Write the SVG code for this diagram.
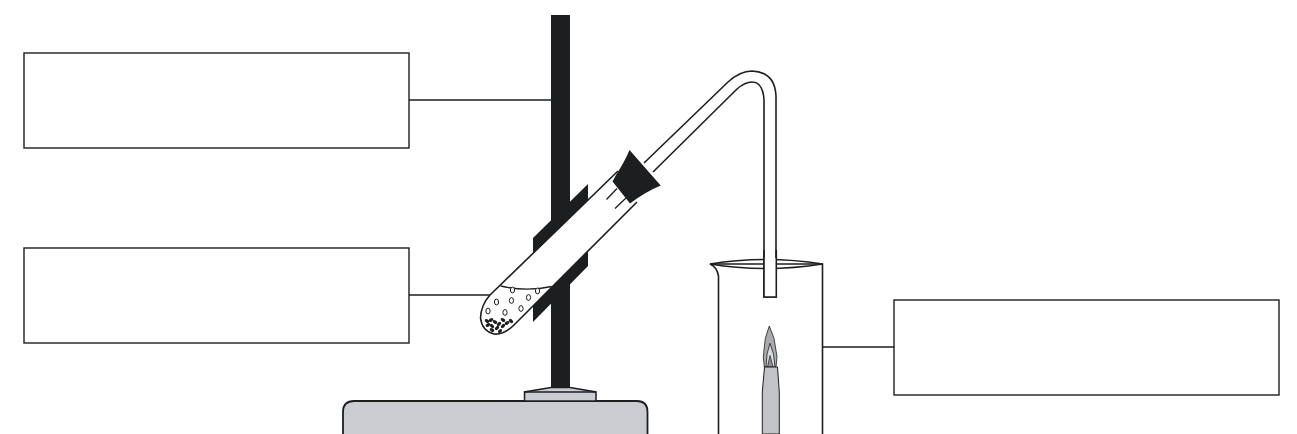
<svg xmlns="http://www.w3.org/2000/svg" width="1297" height="434" viewBox="0 0 1297 434">
<style>
.box{fill:#fff;stroke:#1d1e20;stroke-width:1.4}
.ln{fill:none;stroke:#1d1e20;stroke-width:1.6}
.thin{fill:none;stroke:#1d1e20;stroke-width:1.3}
.dark{fill:#1d1e20}
.bub{fill:#fff;stroke:#1d1e20;stroke-width:1}
.gr{fill:#1d1e20}
</style>
<rect width="1297" height="434" fill="#fff"/>
<g id="connectors">
<path class="thin" d="M409 100H551M409 295H491M822 347H894"/>
</g>
<g id="box-1"><rect class="box" x="24" y="53" width="385" height="95"/></g>
<g id="box-2"><rect class="box" x="24" y="248" width="385" height="95"/></g>
<g id="box-3"><rect class="box" x="894" y="300" width="385" height="95"/></g>
<g id="base">
<path d="M343 434V412Q343 401 354 401H637Q647.500 401 647.500 412V434" fill="#cbccd1" stroke="#1d1e20" stroke-width="1.800"/>
<path d="M524.500 401V392L551 387.500H570L596 392V401Z" fill="#cbccd1" stroke="#1d1e20" stroke-width="1.500"/>
<path d="M524.500 392H596" class="thin"/>
</g>
<g id="stand">
<rect class="dark" x="551" y="15" width="19" height="373"/>
<path class="dark" d="M533 238L588 184V266L533 322Z"/>
</g>
<g id="test-tube">
<path d="M490 295L618 171L637 202L514 325Q504 335 494 334Q482 331 480.500 318Q481 305 490 295Z" fill="#fff"/>
<path class="ln" d="M618 171L490 295Q481 305 480.500 318Q482 331 494 334Q504 335 514 325L637 202"/>
<path class="thin" d="M500.700 286Q526 292 551.700 286.500"/>
<path class="thin" d="M606.500 199.500L617 188.500M615 208.500L626 198"/>
<g class="bub">
<ellipse cx="512.500" cy="290" rx="2.100" ry="2.900"/><ellipse cx="537.500" cy="291" rx="2.100" ry="2.900"/>
<ellipse cx="496.500" cy="302" rx="2.100" ry="2.900"/><ellipse cx="511.500" cy="300.500" rx="2.100" ry="2.900"/><ellipse cx="528.500" cy="297.500" rx="2.100" ry="2.900"/>
<ellipse cx="488" cy="311" rx="2.100" ry="2.900"/><ellipse cx="505" cy="312.500" rx="2.100" ry="2.900"/><ellipse cx="521" cy="308.500" rx="2.100" ry="2.900"/>
</g>
<g class="gr">
<ellipse cx="487" cy="321" rx="2.500" ry="1.600" transform="rotate(30 487 321)"/><ellipse cx="491" cy="320" rx="2.500" ry="1.600" transform="rotate(-30 491 320)"/><ellipse cx="495" cy="322" rx="2.500" ry="1.600" transform="rotate(30 495 322)"/><ellipse cx="499" cy="324" rx="2.500" ry="1.600" transform="rotate(-40 499 324)"/><ellipse cx="503" cy="320" rx="2.500" ry="1.600" transform="rotate(30 503 320)"/><ellipse cx="507" cy="323" rx="2.500" ry="1.600" transform="rotate(-30 507 323)"/><ellipse cx="511" cy="321" rx="2.500" ry="1.600" transform="rotate(40 511 321)"/>
<ellipse cx="488" cy="325" rx="2.500" ry="1.600" transform="rotate(-30 488 325)"/><ellipse cx="492" cy="326" rx="2.500" ry="1.600" transform="rotate(40 492 326)"/><ellipse cx="497" cy="328" rx="2.500" ry="1.600" transform="rotate(-40 497 328)"/><ellipse cx="503" cy="326" rx="2.500" ry="1.600" transform="rotate(-40 503 326)"/>
<ellipse cx="492" cy="330" rx="2.500" ry="1.600" transform="rotate(30 492 330)"/><ellipse cx="500" cy="331" rx="2.500" ry="1.500" transform="rotate(-40 500 331)"/>
</g>
</g>
<g id="delivery-tube">
<path class="ln" d="M644 163L728 82Q740 71 752 71Q775 72 776 96V297H764V100Q763 82 752 82Q745 82 737 89L653 172"/>
</g>
<g id="stopper">
<path class="dark" d="M629.500 150L660.700 185.500Q645 192 630 203.500L612.500 181.500L616 175Q625 161 629.500 150Z"/>
</g>
<g id="beaker">
<path class="ln" d="M718.500 434V276Q717 267 710 264L822.500 264V434"/>
<path class="ln" d="M710 264Q766 255 822.500 264Q766 273 710 264Z"/>
<rect x="764" y="258" width="12.300" height="39" fill="#fff" stroke="none"/>
<path class="ln" d="M764 250V297H776.300V250"/>
</g>
<g id="burner">
<path d="M769.300 326L774 338.300L777 356.700L776 367H764.300L763.300 356.700L765.300 338.300Z" fill="#a9abae" stroke="#1d1e20" stroke-width=".8"/>
<path d="M770 343.300L773.500 354L775 367H766L767 354Z" fill="#d9dadc" stroke="#1d1e20" stroke-width=".8"/>
<path d="M770 355.500L773 367H767.500Z" fill="#8f9194" stroke="#1d1e20" stroke-width=".7"/>
<path d="M764.500 367H777.500L779.300 392V434H762.300V392Z" fill="#c1c3c6" stroke="#1d1e20" stroke-width="1"/>
</g>
</svg>
